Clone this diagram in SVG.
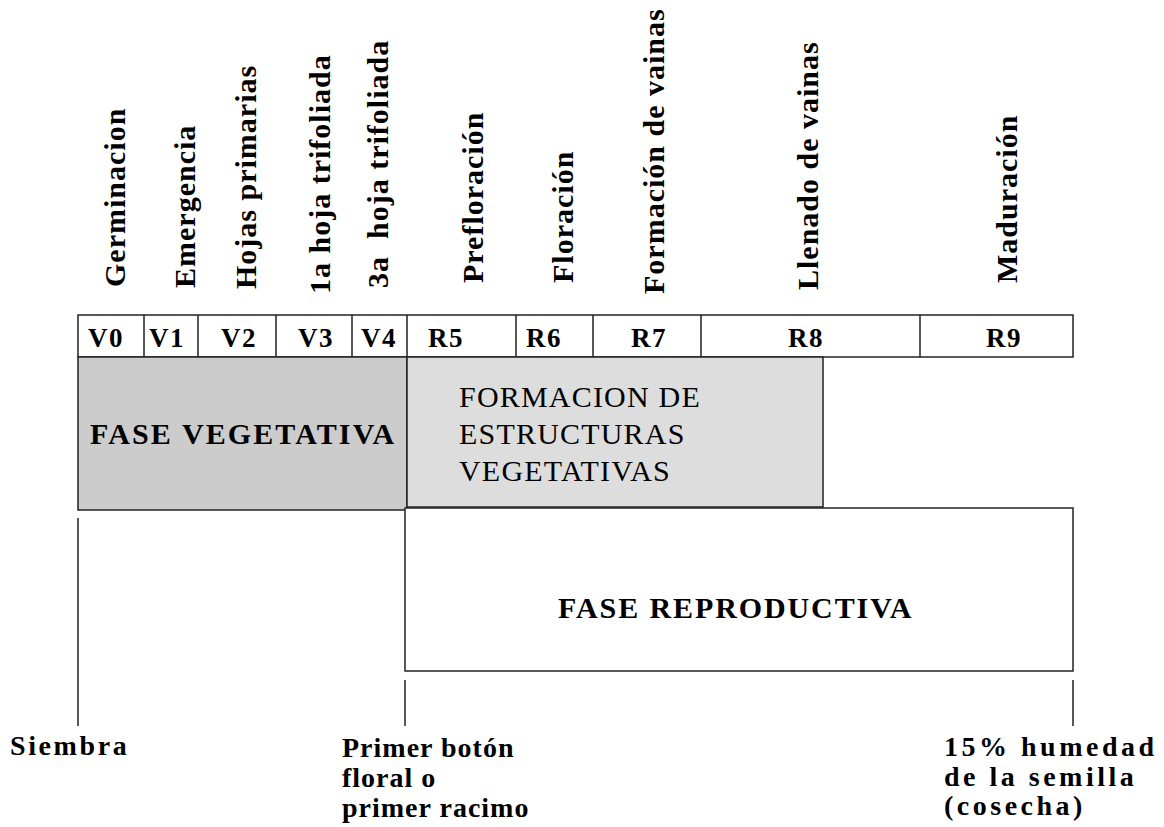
<svg xmlns="http://www.w3.org/2000/svg" width="1164" height="827" viewBox="0 0 1164 827">
<style>
.t{font-family:"Liberation Serif","Times New Roman",serif;fill:#000}
.b{font-weight:bold}
.vl{font-size:30px;font-weight:bold;letter-spacing:1px}
.st{font-size:27px;font-weight:bold;letter-spacing:1.5px}
.bl{font-size:28px;font-weight:bold}
.box{stroke:#222;stroke-width:1.5}
.ln{stroke:#222;stroke-width:1.5;fill:none}
</style>
<rect width="1164" height="827" fill="#fff"/>
<g id="labels">
<text class="t vl" transform="translate(125,287) rotate(-90)">Germinacion</text>
<text class="t vl" transform="translate(195,288) rotate(-90)">Emergencia</text>
<text class="t vl" transform="translate(256,289) rotate(-90)">Hojas primarias</text>
<text class="t vl" transform="translate(330,294) rotate(-90)">1a hoja trifoliada</text>
<text class="t vl" transform="translate(388,288) rotate(-90)" xml:space="preserve">3a  hoja trifoliada</text>
<text class="t vl" transform="translate(483,283) rotate(-90)">Prefloración</text>
<text class="t vl" transform="translate(573,283) rotate(-90)">Floración</text>
<text class="t vl" transform="translate(664,294) rotate(-90)">Formación de vainas</text>
<text class="t vl" transform="translate(818,290) rotate(-90)">Llenado de vainas</text>
<text class="t vl" transform="translate(1017,283) rotate(-90)">Maduración</text>
</g>
<g id="stages">
<rect class="box" x="78" y="315" width="995" height="42" fill="#fff"/>
<path class="ln" d="M144 315V357M198 315V357M276 315V357M352 315V357M407 315V357M516 315V357M593 315V357M701 315V357M920 315V357"/>
<text class="t st" x="88" y="347">V0</text>
<text class="t st" x="149" y="347">V1</text>
<text class="t st" x="221" y="347">V2</text>
<text class="t st" x="298" y="347">V3</text>
<text class="t st" x="361" y="347">V4</text>
<text class="t st" x="428" y="347">R5</text>
<text class="t st" x="526" y="347">R6</text>
<text class="t st" x="631" y="347">R7</text>
<text class="t st" x="788" y="347">R8</text>
<text class="t st" x="986" y="347">R9</text>
</g>
<g id="fase-vegetativa">
<rect class="box" x="78" y="357" width="329" height="153" fill="#cccccc"/>
<text class="t b" x="90" y="444" font-size="30" letter-spacing="2.1">FASE VEGETATIVA</text>
</g>
<g id="formacion">
<rect class="box" x="407" y="357" width="416" height="150" fill="#dddddd"/>
<text class="t" font-size="30" letter-spacing="1.2"><tspan x="459" y="407">FORMACION DE</tspan><tspan x="459" y="444">ESTRUCTURAS</tspan><tspan x="459" y="481">VEGETATIVAS</tspan></text>
</g>
<g id="fase-reproductiva">
<rect class="box" x="405" y="508" width="668" height="163" fill="#fff"/>
<text class="t b" x="558" y="618" font-size="30" letter-spacing="1.9">FASE REPRODUCTIVA</text>
</g>
<g id="connectors">
<path class="ln" d="M78 518V726M405 680V726M1073 680V726"/>
</g>
<g id="siembra">
<text class="t bl" x="10" y="755" letter-spacing="2.6">Siembra</text>
</g>
<g id="primer-boton">
<text class="t bl" letter-spacing="1"><tspan x="342" y="757">Primer botón</tspan><tspan x="342" y="787">floral o</tspan><tspan x="342" y="817">primer racimo</tspan></text>
</g>
<g id="cosecha">
<text class="t bl" letter-spacing="3.5"><tspan x="944" y="756">15% humedad</tspan><tspan x="944" y="786">de la semilla</tspan><tspan x="944" y="815">(cosecha)</tspan></text>
</g>
</svg>
